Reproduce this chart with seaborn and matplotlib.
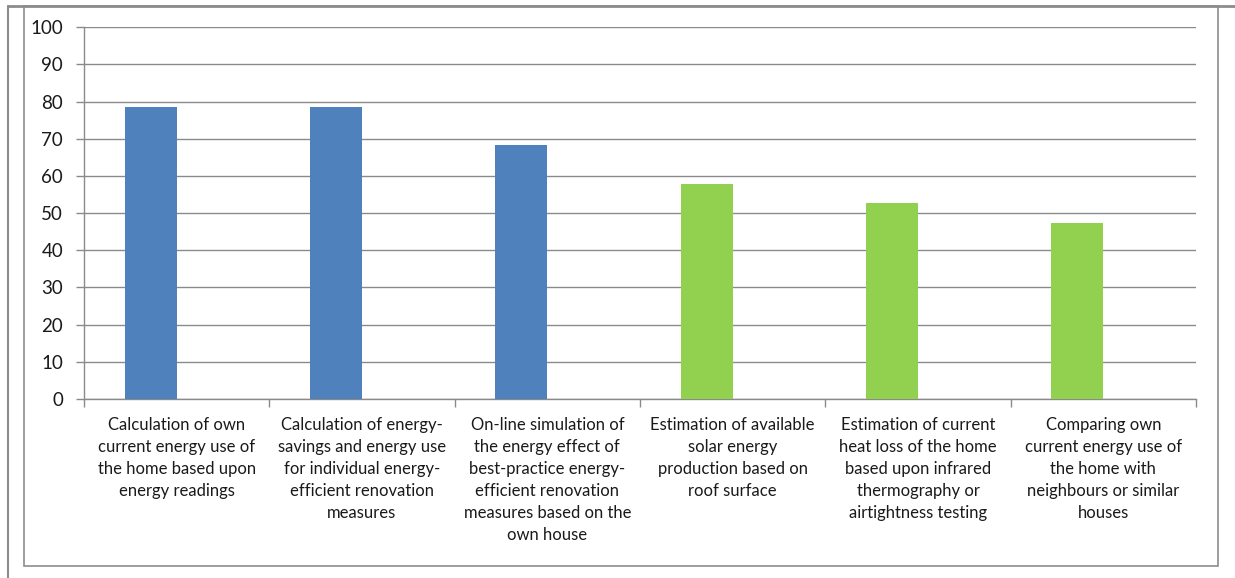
import seaborn as sns
import matplotlib.pyplot as plt
import pandas as pd
from matplotlib.lines import Line2D
from matplotlib.patches import Rectangle

# Data
categories = [
    "Calculation of own\ncurrent energy use of\nthe home based upon\nenergy readings",
    "Calculation of energy-\nsavings and energy use\nfor individual energy-\nefficient renovation\nmeasures",
    "On-line simulation of\nthe energy effect of\nbest-practice energy-\nefficient renovation\nmeasures based on the\nown house",
    "Estimation of available\nsolar energy\nproduction based on\nroof surface",
    "Estimation of current\nheat loss of the home\nbased upon infrared\nthermography or\nairtightness testing",
    "Comparing own\ncurrent energy use of\nthe home with\nneighbours or similar\nhouses",
]
values = [78.6, 78.6, 68.3, 57.8, 52.7, 47.3]
groups = ["blue", "blue", "blue", "green", "green", "green"]
group_colors = {"blue": "#4F81BD", "green": "#92D050"}

df = pd.DataFrame({"category": categories, "value": values, "series": "s1"})

sns.set_style("white")
plt.rcParams["font.family"] = ["Lato", "DejaVu Sans"]

fig = plt.figure(figsize=(12.35, 5.78), dpi=100)
ax = fig.add_axes([84 / 1235, 1 - 399 / 578, (1196 - 84) / 1235, (399 - 27.3) / 578])

# second (empty) series keeps bars shifted left like the original
sns.barplot(data=df, x="category", y="value", hue="series", hue_order=["s1", "s2"],
            width=0.56, dodge=True, palette=["#4F81BD", "#4F81BD"], legend=False,
            ax=ax, zorder=3)
for patch, g in zip(ax.patches, groups):
    patch.set_facecolor(group_colors[g])
    patch.set_edgecolor("none")

ax.set_xlim(-0.5, 5.5)
ax.set_ylim(0, 100)
ax.set_yticks(range(0, 101, 10))
ax.set_xlabel("")
ax.set_ylabel("")
ax.yaxis.grid(True, color="#8a8a8a", linewidth=1.0, zorder=0)
ax.xaxis.grid(False)
for s in ["top", "right"]:
    ax.spines[s].set_visible(False)
for s in ["left", "bottom"]:
    ax.spines[s].set_color("#8a8a8a")
    ax.spines[s].set_linewidth(1.0)

ax.tick_params(axis="y", length=6, width=1, color="#8a8a8a", pad=9,
               labelsize=13.5, labelcolor="#1a1a1a", left=True)
ax.tick_params(axis="x", which="major", length=0, pad=13, labelsize=12,
               labelcolor="#1a1a1a")
ax.set_xticks([i - 0.5 for i in range(7)], minor=True)
ax.tick_params(axis="x", which="minor", length=6, width=1, color="#8a8a8a", bottom=True)
for lbl in ax.get_xticklabels():
    lbl.set_linespacing(1.46)
    lbl.set_verticalalignment("top")

# sheet frame lines
W, H = 1235, 578
fig.add_artist(Rectangle((24 / W, 1 - 566 / H), (1218 - 24) / W, (566 - 6) / H,
                         transform=fig.transFigure, fill=False,
                         edgecolor="#8c8c8c", linewidth=1.2))
fig.add_artist(Line2D([8 / W, 8 / W], [0, 1 - 6 / H], transform=fig.transFigure,
                      color="#8c8c8c", linewidth=1.5))
fig.add_artist(Line2D([8 / W, 1], [1 - 6 / H, 1 - 6 / H], transform=fig.transFigure,
                      color="#8c8c8c", linewidth=2))

fig.savefig("out.png", dpi=100)
